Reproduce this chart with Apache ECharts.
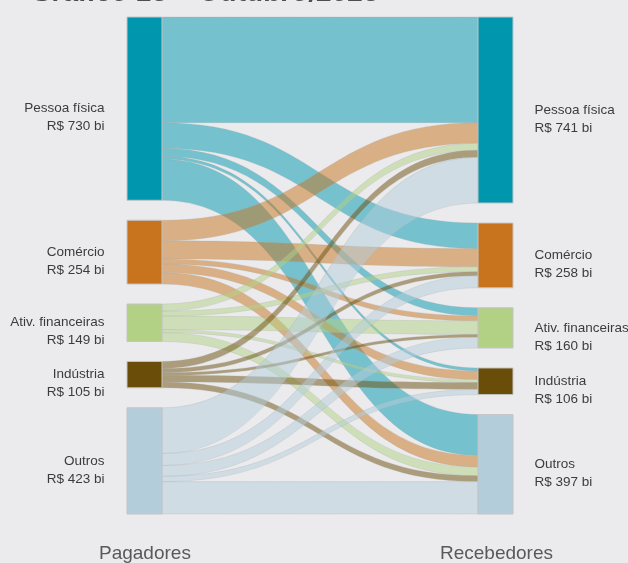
<!DOCTYPE html>
<html>
<head>
<meta charset="utf-8">
<script src="https://cdn.jsdelivr.net/npm/echarts@6/dist/echarts.min.js"></script>
<style>
  html, body { margin: 0; padding: 0; background: #ebebed; }
  #chart { width: 628px; height: 563px; }
</style>
</head>
<body>
<div id="chart"></div>
<script>
// sectors (same order on both sides)
var sectors = ['Pessoa física', 'Comércio', 'Ativ. financeiras', 'Indústria', 'Outros']
var sectorColors = ['#0097ae', '#c8741e', '#b2d184', '#6b4d0a', '#b4cddb']
// totals shown in labels (R$ bi)
var payerTotals = [730, 254, 149, 105, 423]
var receiverTotals = [741, 258, 160, 106, 397]
// flows payer -> receiver (R$ bi), rows = payers, columns = receivers
var flowPessoaFisica = [421, 102, 32, 12, 163]
var flowComercio = [82, 72, 20, 34, 46]
var flowAtivFin = [28, 20, 54, 12, 35]
var flowIndustria = [28, 16, 11, 27, 23]
var flowOutros = [182, 48, 43, 21, 129]
var flows = [flowPessoaFisica, flowComercio, flowAtivFin, flowIndustria, flowOutros]

var nodes = []
sectors.forEach(function(name, i) {
  nodes.push({
    name: 'P:' + name,
    itemStyle: { color: sectorColors[i] },
    label: { position: 'left', distance: 22, align: 'right' }
  })
})
sectors.forEach(function(name, i) {
  nodes.push({
    name: 'R:' + name,
    itemStyle: { color: sectorColors[i] },
    label: { position: 'right', distance: 21, align: 'left' }
  })
})

var links = []
flows.forEach(function(row, i) {
  row.forEach(function(v, j) {
    links.push({ source: 'P:' + sectors[i], target: 'R:' + sectors[j], value: v })
  })
})

var chart = echarts.init(document.getElementById('chart'))
chart.setOption({
  backgroundColor: '#ebebed',
  animation: false,
  graphic: [
    {
      // title is mostly cropped off the top in the reference
      type: 'text',
      left: 31,
      top: -21,
      style: {
        text: 'Gráfico 13 – Outubro/2023',
        font: 'italic bold 28px "Liberation Sans", Arial, sans-serif',
        fill: '#4d4d4d'
      }
    },
    {
      type: 'text',
      left: 99,
      top: 544,
      style: {
        text: 'Pagadores',
        font: '19px "Liberation Sans", Arial, sans-serif',
        fill: '#595959'
      }
    },
    {
      type: 'text',
      left: 440,
      top: 544,
      style: {
        text: 'Recebedores',
        font: '19px "Liberation Sans", Arial, sans-serif',
        fill: '#595959'
      }
    }
  ],
  series: [{
    type: 'sankey',
    left: 127,
    right: 115,
    top: 17,
    bottom: 49,
    nodeWidth: 35,
    nodeGap: 20,
    layoutIterations: 0,
    draggable: false,
    emphasis: { disabled: true },
    data: nodes,
    links: links,
    itemStyle: {
      borderColor: '#c4c4c6',
      borderWidth: 1
    },
    lineStyle: {
      color: 'source',
      opacity: 0.5,
      curveness: 0.5,
      borderColor: '#aaaaaa',
      borderWidth: 0.5
    },
    label: {
      fontFamily: '"Liberation Sans", Arial, sans-serif',
      fontSize: 13.5,
      lineHeight: 18,
      color: '#3c3c3c',
      offset: [0, 9],
      formatter: function(p) {
        var i = p.dataIndex
        if (i < sectors.length) {
          return sectors[i] + '\nR$ ' + payerTotals[i] + ' bi'
        }
        var k = i - sectors.length
        return sectors[k] + '\nR$ ' + receiverTotals[k] + ' bi'
      }
    }
  }]
})
</script>
</body>
</html>
